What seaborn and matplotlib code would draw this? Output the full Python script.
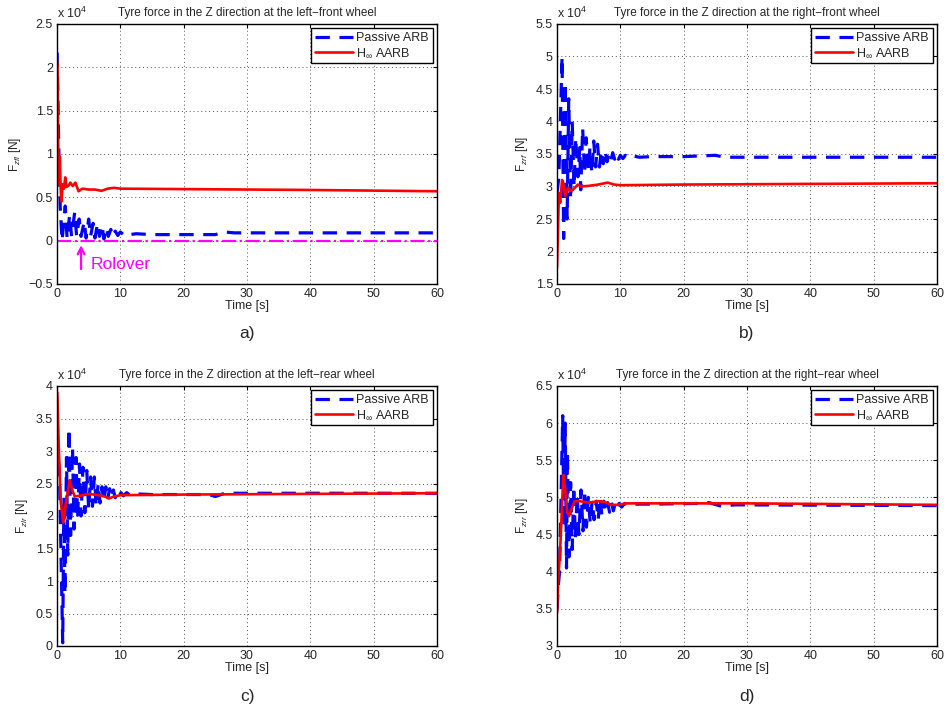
import numpy as np
import pandas as pd
import matplotlib
matplotlib.use("Agg")
import matplotlib.pyplot as plt
import seaborn as sns
from matplotlib.ticker import FuncFormatter, MultipleLocator

# all forces in units of 1e4 N (axes show "x 10^4")

# a) left-front wheel
t_lf_pas = [0.02, 0.3, 0.5, 0.8, 1.3, 1.6, 2.0, 2.3, 2.8, 3.1, 3.5, 3.8, 4.3, 4.6, 5.0, 5.3, 5.7, 6.0,
            6.4, 6.7, 7.1, 7.4, 7.8, 8.1, 8.5, 8.8, 9.2, 9.6, 10.0, 10.5, 11.0, 11.5, 12.5, 15, 20, 25,
            26.5, 28, 60]
v_lf_pas = [2.17, 1.0, 0.4, 0.0, 0.4, 0.02, 0.3, 0.05, 0.33, 0.05, 0.25, 0.05, 0.22, 0.03, 0.25, 0.05,
            0.2, 0.03, 0.2, 0.05, 0.18, 0.02, 0.15, 0.05, 0.13, 0.05, 0.11, 0.06, 0.1, 0.07, 0.09, 0.07,
            0.08, 0.07, 0.07, 0.07, 0.1, 0.09, 0.09]
t_lf_hinf = [0.0, 0.08, 0.2, 0.3, 0.45, 0.55, 0.7, 0.9, 1.1, 1.3, 1.5, 1.9, 2.1, 2.5, 2.9, 3.4, 4, 5, 6,
             7, 8, 9, 10, 20, 40, 60]
v_lf_hinf = [2.07, 2.05, 1.0, 0.65, 0.97, 0.65, 0.45, 0.65, 0.6, 0.73, 0.62, 0.64, 0.67, 0.63, 0.67,
             0.57, 0.6, 0.59, 0.59, 0.575, 0.6, 0.61, 0.6, 0.595, 0.585, 0.57]
rollover_level = 0.0

# b) right-front wheel
t_rf_pas = [0.0, 0.3, 0.8, 1.05, 1.3, 1.6, 1.85, 2.15, 2.4, 2.7, 2.95, 3.3, 3.6, 3.75, 4.05, 4.35, 4.6,
            4.95, 5.2, 5.5, 5.8, 6.1, 6.4, 6.7, 7.0, 7.3, 7.6, 7.9, 8.2, 8.5, 8.8, 9.1, 9.4, 9.7, 10.0,
            10.4, 10.8, 11.3, 12, 13, 15, 20, 25, 26.5, 60]
v_rf_pas = [2.9, 3.15, 5.0, 2.2, 4.6, 2.5, 4.35, 2.8, 4.0, 3.0, 3.75, 3.15, 3.6, 2.95, 3.9, 3.2, 3.75,
            3.25, 3.6, 3.2, 3.7, 3.3, 3.65, 3.3, 3.55, 3.35, 3.55, 3.38, 3.5, 3.4, 3.52, 3.42, 3.5, 3.42,
            3.48, 3.43, 3.48, 3.44, 3.47, 3.45, 3.46, 3.46, 3.48, 3.45, 3.45]
t_rf_hinf = [0.0, 0.15, 0.3, 0.5, 0.8, 1.0, 1.3, 1.6, 1.8, 2.1, 2.5, 3.0, 3.3, 3.8, 5, 6.5, 8, 9, 10,
             20, 40, 60]
v_rf_hinf = [1.75, 2.3, 2.9, 2.75, 3.1, 3.05, 2.85, 2.95, 2.98, 2.93, 2.95, 3.0, 3.03, 3.0, 3.01, 3.03,
             3.06, 3.03, 3.02, 3.03, 3.04, 3.05]

# c) left-rear wheel
t_lr_pas = [0.05, 0.4, 0.9, 1.1, 1.25, 1.5, 1.7, 1.9, 2.15, 2.45, 2.7, 3.0, 3.25, 3.55, 3.8, 4.1, 4.4,
            4.7, 5.0, 5.3, 5.6, 5.9, 6.2, 6.5, 6.8, 7.1, 7.4, 7.7, 8.0, 8.3, 8.6, 8.9, 9.2, 9.5, 9.8,
            10.1, 10.5, 11, 11.5, 12.5, 15, 24, 25, 26.5, 60]
v_lr_pas = [3.2, 2.6, 0.05, 2.3, 0.8, 2.9, 1.4, 3.35, 1.7, 3.05, 1.8, 2.9, 1.95, 2.8, 2.0, 2.75, 2.05,
            2.7, 2.1, 2.6, 2.15, 2.6, 2.15, 2.5, 2.2, 2.45, 2.22, 2.45, 2.25, 2.42, 2.28, 2.4, 2.28,
            2.36, 2.3, 2.36, 2.31, 2.36, 2.32, 2.34, 2.33, 2.33, 2.3, 2.35, 2.35]
t_lr_hinf = [0.05, 0.3, 0.6, 1.0, 1.4, 2.0, 2.4, 2.8, 3.5, 5, 6.5, 7.5, 8.2, 9, 10, 20, 40, 60]
v_lr_hinf = [3.9, 3.0, 2.2, 1.9, 2.2, 2.55, 2.4, 2.3, 2.31, 2.34, 2.32, 2.3, 2.27, 2.3, 2.32, 2.33,
             2.34, 2.35]

# d) right-rear wheel
t_rr_pas = [0.0, 0.2, 0.4, 0.9, 1.1, 1.3, 1.5, 1.65, 1.9, 2.15, 2.4, 2.65, 2.9, 3.2, 3.45, 3.8, 4.1,
            4.35, 4.65, 4.95, 5.25, 5.55, 5.85, 6.2, 6.5, 6.8, 7.1, 7.4, 7.7, 8.0, 8.3, 8.6, 8.9, 9.2,
            9.5, 9.8, 10.2, 10.7, 11.3, 12, 15, 23, 24, 26, 28, 60]
v_rr_pas = [3.5, 3.8, 4.0, 6.1, 4.6, 6.0, 4.05, 5.6, 4.2, 5.2, 4.3, 5.15, 4.45, 5.05, 4.5, 5.1, 4.55,
            5.1, 4.6, 5.0, 4.65, 4.95, 4.7, 4.95, 4.7, 5.0, 4.75, 4.95, 4.8, 4.93, 4.8, 4.93, 4.82,
            4.92, 4.85, 4.92, 4.87, 4.92, 4.89, 4.91, 4.91, 4.92, 4.93, 4.88, 4.9, 4.89]
t_rr_hinf = [0.02, 0.2, 0.5, 1.0, 1.3, 1.6, 1.9, 2.3, 2.8, 3.5, 5, 6.5, 7.5, 8.5, 9.5, 11, 30, 60]
v_rr_hinf = [3.45, 3.9, 4.3, 5.3, 5.1, 4.8, 4.75, 4.85, 4.95, 4.95, 4.93, 4.95, 4.94, 4.9, 4.9, 4.92,
             4.92, 4.9]

panels = [
    ("Tyre force in the Z direction at the left\u2212front wheel", r"F$_{zfl}$ [N]", (-0.5, 2.5),
     t_lf_pas, v_lf_pas, t_lf_hinf, v_lf_hinf, "a)"),
    ("Tyre force in the Z direction at the right\u2212front wheel", r"F$_{zrf}$ [N]", (1.5, 5.5),
     t_rf_pas, v_rf_pas, t_rf_hinf, v_rf_hinf, "b)"),
    ("Tyre force in the Z direction at the left\u2212rear wheel", r"F$_{zlr}$ [N]", (0, 4),
     t_lr_pas, v_lr_pas, t_lr_hinf, v_lr_hinf, "c)"),
    ("Tyre force in the Z direction at the right\u2212rear wheel", r"F$_{zrr}$ [N]", (3, 6.5),
     t_rr_pas, v_rr_pas, t_rr_hinf, v_rr_hinf, "d)"),
]

sns.set_style("white")
plt.rcParams['font.family'] = ['Liberation Sans', 'DejaVu Sans']
plt.rcParams['mathtext.fontset'] = 'custom'
plt.rcParams['mathtext.rm'] = 'Liberation Sans'
plt.rcParams['mathtext.it'] = 'Liberation Sans:italic'

W, H = 944, 708
fig = plt.figure(figsize=(W / 100, H / 100), dpi=100)

# axes boxes in pixels: left, top, right, bottom
boxes = [(57, 24, 437, 284), (557, 24, 937, 284), (57, 386, 437, 646), (557, 386, 937, 646)]

for (title, ylab, ylim, tp, vp, th, vh, tag), (l, t, r, b) in zip(panels, boxes):
    ax = fig.add_axes([l / W, 1 - b / H, (r - l) / W, (b - t) / H])
    dp = pd.DataFrame({"t": tp, "F": vp})
    dh = pd.DataFrame({"t": th, "F": vh})
    sns.lineplot(data=dp, x="t", y="F", ax=ax, color="#0000ff", linestyle="--", linewidth=2.3,
                 estimator=None, label="Passive ARB", dashes=False)
    ax.lines[-1].set_dashes([4.5, 3])
    sns.lineplot(data=dh, x="t", y="F", ax=ax, color="#ff0000", linewidth=1.9,
                 estimator=None, label=r"H$_\infty$ AARB")
    if tag == "a)":
        ax.axhline(rollover_level, color="#ff00ff", linestyle="-.", linewidth=1.6, zorder=1)
        ax.annotate("", xy=(3.8, -0.02), xytext=(3.8, -0.36),
                    arrowprops=dict(arrowstyle="->", color="#ff00ff", lw=1.6, mutation_scale=12))
        ax.text(5.3, -0.27, "Rolover", color="#ff00ff", fontsize=12.5, va="center")

    ax.set_xlim(0, 60)
    ax.set_ylim(*ylim)
    ax.xaxis.set_major_locator(MultipleLocator(10))
    ax.yaxis.set_major_locator(MultipleLocator(0.5))
    ax.yaxis.set_major_formatter(FuncFormatter(lambda v, p: "\u22120.5" if abs(v + 0.5) < 1e-9 else f"{v:g}"))
    ax.grid(True, color="#555555", linestyle=(0, (1, 3)), linewidth=0.7)
    ax.tick_params(direction="in", top=True, right=True, length=3, labelsize=9, pad=3, color="black")
    for s in ax.spines.values():
        s.set_color("black")
        s.set_linewidth(1.0)
    ax.set_title(title, fontsize=8.5, pad=6)
    ax.set_xlabel("Time [s]", fontsize=9, labelpad=0)
    ax.set_ylabel(ylab, fontsize=8.5, labelpad=4)
    ax.text(0.0, 1.012, r"x 10$^4$", transform=ax.transAxes, fontsize=9, ha="left", va="bottom")
    leg = ax.legend(loc="upper right", fontsize=9, frameon=True, fancybox=False, framealpha=1,
                    edgecolor="black", handlelength=3.0, borderaxespad=0.35, borderpad=0.3,
                    labelspacing=0.2, handletextpad=0.3)
    leg.get_frame().set_linewidth(1.0)
    fig.text((l + r) / 2 / W, 1 - (b + 50) / H, tag, fontsize=12.5, ha="center", va="center")

fig.savefig("out.png", dpi=100)
